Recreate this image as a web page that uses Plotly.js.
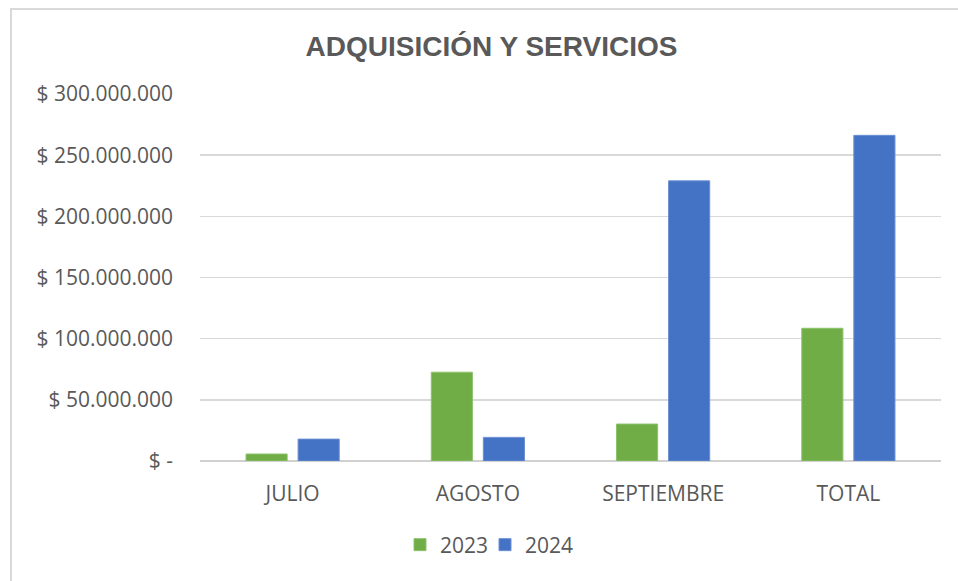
<!DOCTYPE html>
<html>
<head>
<meta charset="utf-8">
<script src="https://cdn.plot.ly/plotly-3.0.1.min.js"></script>
<style>
  html, body { margin: 0; padding: 0; background: #ffffff; overflow: hidden; }
  #frame { position: absolute; left: 10px; top: 8px; width: 1000px; height: 640px; border: 2px solid #d9d9d9; box-sizing: border-box; }
  #chart { position: absolute; left: 0; top: 0; width: 958px; height: 581px; }
</style>
</head>
<body>
<div id="frame"></div>
<div id="chart"></div>
<script>
const categories = ["JULIO", "AGOSTO", "SEPTIEMBRE", "TOTAL"];
const values2023 = [5700000, 72600000, 30200000, 108500000];
const values2024 = [17900000, 19300000, 229000000, 266200000];
const seriesNames = ["2023", "2024"];
const tickValues = [0, 50000000, 100000000, 150000000, 200000000, 250000000, 300000000];
const tickLabels = ["$ -", "$ 50.000.000", "$ 100.000.000", "$ 150.000.000", "$ 200.000.000", "$ 250.000.000", "$ 300.000.000"];

const txt = "#595959";
const font = { family: "Open Sans, Noto Sans, sans-serif", size: 21, color: txt };

const traces = [
  { type: "bar", name: seriesNames[0], x: categories, y: values2023, legend: "legend", marker: { color: "#70ad47", line: { color: "#8cc26a", width: 1 } }, hoverinfo: "none" },
  { type: "bar", name: seriesNames[1], x: categories, y: values2024, legend: "legend2", marker: { color: "#4472c4", line: { color: "#6b8fd2", width: 1 } }, hoverinfo: "none" }
];

const legendBase = {
  orientation: "h", xref: "container", xanchor: "left",
  yref: "container", y: 1 - 545 / 581, yanchor: "middle",
  font: font, itemwidth: 30, bgcolor: "rgba(0,0,0,0)"
};

const layout = {
  width: 958, height: 581,
  paper_bgcolor: "rgba(0,0,0,0)", plot_bgcolor: "rgba(0,0,0,0)",
  margin: { l: 200, r: 17, t: 94, b: 120, pad: 0 },
  barmode: "group", bargap: 0.438, bargroupgap: 0.21,
  font: font,
  title: {
    text: "ADQUISICIÓN Y SERVICIOS",
    font: { family: "Liberation Sans, Arial, sans-serif", size: 28, color: txt, weight: "bold" },
    xref: "container", x: 0.513, xanchor: "center",
    yref: "container", y: 1 - 46 / 581, yanchor: "middle"
  },
  xaxis: {
    showgrid: false, zeroline: false, showline: false, ticks: "",
    tickfont: font, ticklabelstandoff: 18, fixedrange: true
  },
  yaxis: {
    range: [0, 300000000], tickvals: tickValues, ticktext: tickLabels,
    showgrid: true, gridcolor: "#d9d9d9", gridwidth: 1.5,
    zeroline: true, zerolinecolor: "#d0d0d0", zerolinewidth: 2,
    showline: false, ticks: "", tickfont: font, ticklabelstandoff: 26, fixedrange: true
  },
  showlegend: true,
  legend: Object.assign({}, legendBase, { x: 400 / 958 }),
  legend2: Object.assign({}, legendBase, { x: 485 / 958 })
};

Plotly.newPlot("chart", traces, layout, { staticPlot: true, displayModeBar: false });
</script>
</body>
</html>
